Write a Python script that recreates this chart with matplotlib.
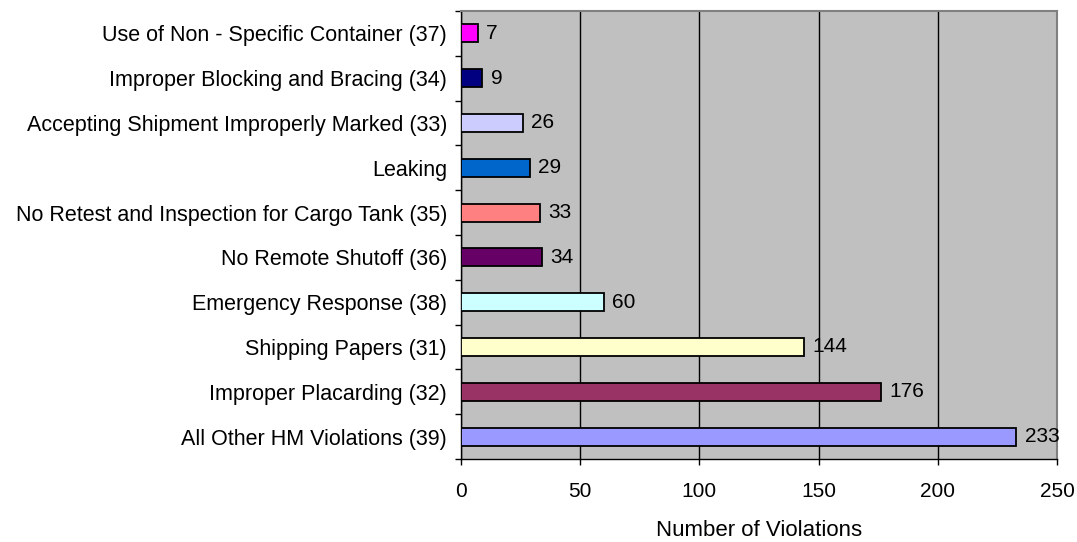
import matplotlib.pyplot as plt

plt.rcParams['font.family'] = ['Liberation Sans', 'DejaVu Sans']

categories = ['All Other HM Violations (39)', 'Improper Placarding (32)', 'Shipping Papers (31)',
              'Emergency Response (38)', 'No Remote Shutoff (36)',
              'No Retest and Inspection for Cargo Tank (35)', 'Leaking',
              'Accepting Shipment Improperly Marked (33)', 'Improper Blocking and Bracing (34)',
              'Use of Non - Specific Container (37)']
values = [233, 176, 144, 60, 34, 33, 29, 26, 9, 7]
colors = ['#9999FF', '#993366', '#FFFFCC', '#CCFFFF', '#660066',
          '#FF8080', '#0066CC', '#CCCCFF', '#000080', '#FF00FF']

fig = plt.figure(figsize=(10.77, 5.42), dpi=100)
ax = fig.add_axes([461 / 1077, 1 - 459 / 542, 596 / 1077, 448 / 542])
ax.set_facecolor('#C0C0C0')

y = range(len(categories))
ax.barh(y, values, height=0.4, color=colors, edgecolor='black', linewidth=1.3, zorder=3)
for i, v in enumerate(values):
    ax.annotate(str(v), (v, i), xytext=(6, 0), textcoords='offset points',
                va='center', ha='left', fontsize=15, zorder=4)

ax.set_xlim(0, 250)
ax.set_ylim(-0.5, len(categories) - 0.5)
ax.set_xticks([0, 50, 100, 150, 200, 250])
ax.set_yticks([i - 0.5 for i in range(len(categories) + 1)], minor=False)
ax.set_yticklabels([])
ax.set_yticks(list(y), minor=True)
ax.set_yticklabels(categories, minor=True)
ax.tick_params(axis='y', which='minor', length=0, labelsize=15.5, pad=10)
ax.tick_params(axis='y', which='major', length=4.5, width=1, direction='out')
ax.tick_params(axis='x', length=4.5, width=1, labelsize=15, pad=12)
ax.xaxis.grid(True, color='black', linewidth=1, zorder=1)
ax.set_axisbelow(True)

for side in ['top', 'right']:
    ax.spines[side].set_color('#808080')
    ax.spines[side].set_linewidth(1.5)
for side in ['left', 'bottom']:
    ax.spines[side].set_color('black')
    ax.spines[side].set_linewidth(1)

ax.set_xlabel('Number of Violations', fontsize=16, labelpad=14)

fig.savefig('out.png', dpi=100)
